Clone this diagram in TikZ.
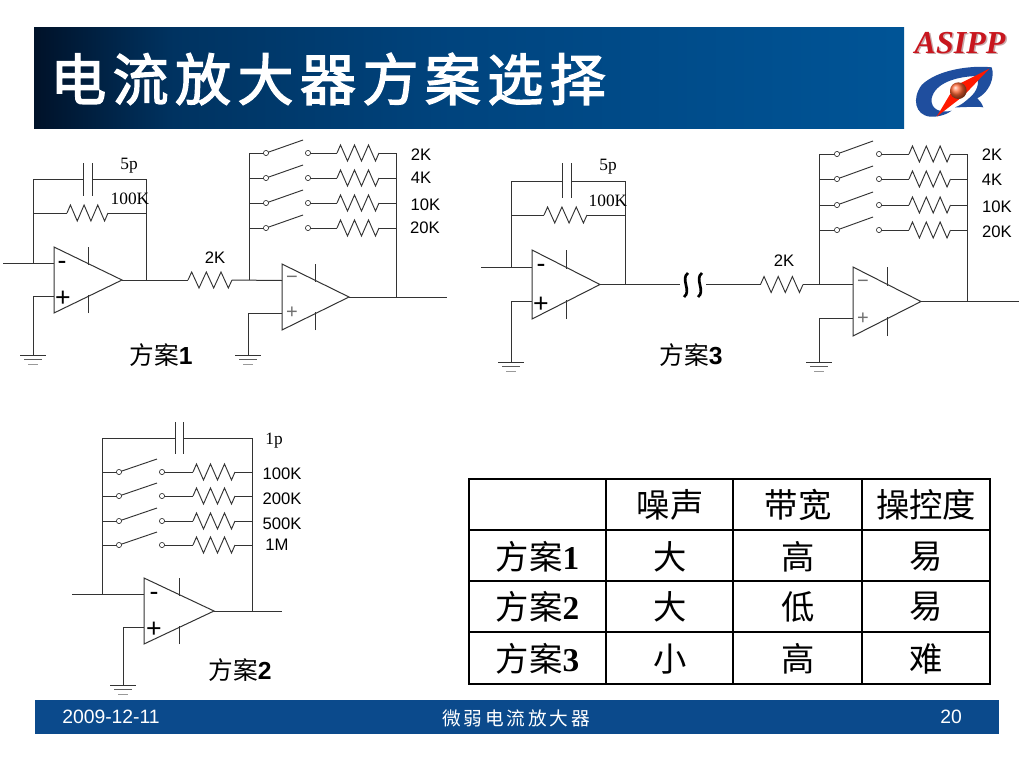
\documentclass[tikz,border=0pt]{standalone}
\usepackage{fontspec}
\setmainfont{Liberation Sans}
\newfontfamily\cjk{Noto Sans CJK SC}
\newfontfamily\cjktitle[LetterSpace=11.5,FakeBold=2.5]{Noto Sans CJK SC}
\newfontfamily\cjkfoot[LetterSpace=15]{Noto Sans CJK SC}
\newfontfamily\serif{Liberation Serif}
\usetikzlibrary{calc}
\newcommand\fs[1]{\fontsize{#1}{#1}\selectfont}
\pgfdeclarehorizontalshading{titlebar}{100bp}{
  rgb(0bp)=(0,0.07,0.16);
  rgb(25bp)=(0,0.07,0.16);
  rgb(33bp)=(0,0.20,0.38);
  rgb(50bp)=(0,0.27,0.50);
  rgb(75bp)=(0,0.33,0.59);
  rgb(100bp)=(0,0.33,0.59)}
\definecolor{wirecol}{HTML}{333333}
\definecolor{footblue}{HTML}{0B4A8C}
\definecolor{logoblue}{HTML}{1F4E9E}
\definecolor{logored}{HTML}{C8161E}
\tikzset{
  x=0.75pt,y=-0.75pt,
  wire/.style={draw=wirecol,line width=0.75pt,line join=miter},
  thinwire/.style={draw=wirecol,line width=0.7pt},
  contact/.style={draw=wirecol,fill=white,line width=0.5pt},
  lab/.style={inner sep=0,font=\fs{12.5}},
  sflab/.style={inner sep=0,font=\serif\fs{13}},
  plan/.style={inner sep=0,font=\fs{18.5}},
  cell/.style={inner sep=0,font=\fs{25}},
  sigA/.style={inner sep=0,font=\fs{20}},
  sigB/.style={inner sep=0,text=wirecol!70,font=\fs{15}},
}
% #1 name, #2 x left, #3 y top, #4 y bottom, #5 x tip, #6 stub x
\newcommand\opamp[6]{%
  \coordinate (#1-top) at (#2,#3);
  \coordinate (#1-bot) at (#2,#4);
  \coordinate (#1-o) at (#5,{(#3+#4)/2});
  \coordinate (#1-m) at (#2,{#3+(#4-#3)/4});
  \coordinate (#1-p) at (#2,{#4-(#4-#3)/4});
  \draw[wire] (#1-top) -- (#1-bot) -- (#1-o) -- cycle;
  \draw[thinwire] (#6,#3) -- (#6,{#3+(#4-#3)*0.27});
  \draw[thinwire] (#6,#4) -- (#6,{#4-(#4-#3)*0.27});
}
% zigzag between two named points on a level
\newcommand\zig[2]{%
  \path let \p1=($(#2)-(#1)$),\n1={\x1/6} in
    coordinate (zz) at (\n1,0);
  \draw[thinwire,line join=miter] (#1) -- ++($.5*(zz)+(0,-8)$) -- ++($(zz)+(0,16)$) -- ++($(zz)+(0,-16)$)
    -- ++($(zz)+(0,16)$) -- ++($(zz)+(0,-16)$) -- ++($(zz)+(0,16)$) -- (#2);
}
% ground symbol hanging at named coordinate
\newcommand\gnd[1]{%
  \draw[wire] ($(#1)+(-13,0)$) -- ($(#1)+(13,0)$);
  \draw[wire,draw=wirecol!80] ($(#1)+(-9,4)$) -- ($(#1)+(9,4)$);
  \draw[wire,draw=wirecol!50] ($(#1)+(-5,9)$) -- ($(#1)+(5,9)$);
}
% #1 left rail x, #2 left contact x, #3 blade end x, #4 right contact x, #5 res start, #6 res end, #7 right rail x, #8 y
\newcommand\swrow[8]{%
  \coordinate (sa) at (#1,#8); \coordinate (sb) at (#2,#8);
  \coordinate (sc) at (#3,#8-13); \coordinate (sd) at (#4,#8);
  \coordinate (se) at (#5,#8); \coordinate (sf) at (#6,#8); \coordinate (sg) at (#7,#8);
  \draw[wire] (sa) -- (sb);
  \draw[thinwire] (sb) -- (sc);
  \draw[wire] (sd) -- (se);
  \zig{se}{sf}
  \draw[wire] (sf) -- (sg);
  \draw[contact] (sb) circle[radius=2.6];
  \draw[contact] (sd) circle[radius=2.6];
}
\newcommand\capac[4]{%
  \draw[wire] (#1,#3) -- (#1,#4);
  \draw[wire] (#2,#3) -- (#2,#4);
}
\begin{document}
\begin{tikzpicture}
\useasboundingbox (0,0) rectangle (1024,768);
\fill[white] (0,0) rectangle (1024,768);
% ---------- title bar
\shade[shading=titlebar] (34,27) rectangle (904,128);
\node[inner sep=0,anchor=west,text=white,font=\cjktitle\fs{42}] (title) at (50,79) {电流放大器方案选择};
% ---------- logo
\node[inner sep=0,text=logored!50!black,opacity=.35,font=\serif\bfseries\itshape\fs{24}] (asippS) at (961.5,44.5) {ASIPP};
\node[inner sep=0,text=logored,font=\serif\bfseries\itshape\fs{24}] (asipp) at (960,43) {ASIPP};
\begin{scope}[shift={(880,20)},x=0.25pt,y=-0.25pt]
  \fill[logoblue] (335,142) .. controls (270,135) and (170,150) .. (125,195)
     .. controls (95,235) and (105,285) .. (150,290)
     .. controls (180,292) and (205,280) .. (215,272)
     .. controls (185,280) and (150,270) .. (155,235)
     .. controls (165,190) and (225,170) .. (290,168)
     .. controls (300,190) and (290,215) .. (270,232)
     .. controls (255,245) and (245,255) .. (225,262)
     .. controls (260,262) and (285,258) .. (310,262)
     .. controls (305,250) and (300,242) .. (292,235)
     .. controls (330,215) and (345,170) .. (335,142) -- cycle;
  \fill[red!80!orange] (328,146) -- (225,198) -- (170,290) -- (250,228) -- cycle;
  \shade[ball color=orange!50!red!80!white] (235,212) circle[radius=25];
\end{scope}
% ---------- scheme 1
\opamp{a}{54}{247}{313}{122}{88}
\opamp{b}{282}{264}{330}{349}{315}
\coordinate (a-g) at (33,355.5);
\coordinate (a-in) at (3,263.5);
\coordinate (a-fbl) at (a-g |- a-m);
\coordinate (a-tl) at (33,179.5);
\coordinate (a-cl) at (83,179.5);
\coordinate (a-cr) at (92,179.5);
\coordinate (a-tr) at (146.7,179.5);
\coordinate (a-fbr) at (a-tr |- a-o);
\coordinate (a-rl) at (33,213);
\coordinate (a-r1) at (67,213);
\coordinate (a-r2) at (108,213);
\coordinate (a-rr) at (146.7,213);
\coordinate (a-gt) at (a-g |- a-p);
\draw[wire] (a-in) -- (a-m);
\draw[wire] (a-fbl) -- (a-tl) -- (a-cl);
\draw[wire] (a-cr) -- (a-tr) -- (a-fbr);
\capac{83}{92}{163}{196}
\draw[wire] (a-rl) -- (a-r1); \zig{a-r1}{a-r2} \draw[wire] (a-r2) -- (a-rr);
\draw[wire] (a-gt) -- (a-p); \draw[wire] (a-gt) -- (a-g); \gnd{a-g}
\coordinate (ab-r1) at (188,280); \coordinate (ab-r2) at (232,280); \coordinate (b-j) at (249,280);
\draw[wire] (a-o) -- (ab-r1); \zig{ab-r1}{ab-r2} \draw[wire] (ab-r2) -- (b-m);
\coordinate (b-t) at (249,153); \draw[wire] (b-j) -- (b-t);
\coordinate (b-rt) at (396,153); \coordinate (b-rb) at (b-rt |- b-o); \coordinate (b-out) at (447,297);
\draw[wire] (b-rt) -- (b-rb); \draw[wire] (b-o) -- (b-out);
\swrow{249}{266}{303}{308}{337}{379}{396}{153}
\swrow{249}{266}{303}{308}{337}{379}{396}{178}
\swrow{249}{266}{303}{308}{337}{379}{396}{203}
\swrow{249}{266}{303}{308}{337}{379}{396}{228}
\coordinate (b-g) at (248,355.5); \coordinate (b-gt) at (b-g |- b-p);
\draw[wire] (b-gt) -- (b-p); \draw[wire] (b-gt) -- (b-g); \gnd{b-g}
\node[sflab] (t5pa) at (129,166) {5p};
\node[sflab] (t100a) at (130,199) {100K};
\node[lab] (t2ka) at (215,258) {2K};
\node[lab] (t2kb) at (421,155) {2K};
\node[lab] (t4kb) at (421,178) {4K};
\node[lab] (t10kb) at (425.5,205) {10K};
\node[lab] (t20kb) at (425,228) {20K};
\node[sigA] (ma) at (62,265) {-};
\node[sigA] (pa) at (63,299) {+};
\node[sigB] (mb) at (292,280) {−};
\node[sigB] (pb) at (292,313) {+};
\node[plan] (fa1) at (161,355) {{\cjk 方案}\textbf{1}};
% ---------- scheme 3
\opamp{c}{532}{250}{319}{600}{566}
\opamp{d}{853}{267}{336}{921}{887}
\coordinate (c-g) at (511,362);
\coordinate (c-in) at (481,267.25);
\coordinate (c-fbl) at (c-g |- c-m);
\coordinate (c-tl) at (511,181);
\coordinate (c-cl) at (562,181);
\coordinate (c-cr) at (571,181);
\coordinate (c-tr) at (625.5,181);
\coordinate (c-fbr) at (c-tr |- c-o);
\coordinate (c-rl) at (511,215);
\coordinate (c-r1) at (544,215);
\coordinate (c-r2) at (587,215);
\coordinate (c-rr) at (625.5,215);
\coordinate (c-gt) at (c-g |- c-p);
\draw[wire] (c-in) -- (c-m);
\draw[wire] (c-fbl) -- (c-tl) -- (c-cl);
\draw[wire] (c-cr) -- (c-tr) -- (c-fbr);
\capac{562}{571}{163}{198}
\draw[wire] (c-rl) -- (c-r1); \zig{c-r1}{c-r2} \draw[wire] (c-r2) -- (c-rr);
\draw[wire] (c-gt) -- (c-p); \draw[wire] (c-gt) -- (c-g); \gnd{c-g}
\coordinate (cd-b1) at (680,284.5); \coordinate (cd-b2) at (706,284.5);
\coordinate (cd-r1) at (760.5,284.5); \coordinate (cd-r2) at (803,284.5);
\coordinate (d-j) at (819,284.5);
\draw[wire] (c-o) -- (cd-b1);
\draw[line width=2pt,draw=black] (688,273) .. controls (680,279) and (692,291) .. (684,297);
\draw[line width=2pt,draw=black] (702,273) .. controls (694,279) and (706,291) .. (698,297);
\draw[wire] (cd-b2) -- (cd-r1); \zig{cd-r1}{cd-r2} \draw[wire] (cd-r2) -- (d-j) -- (d-j -| d-m);
\coordinate (d-t) at (819,154); \draw[wire] (d-j) -- (d-t);
\coordinate (d-rt) at (967.5,154); \coordinate (d-rb) at (d-rt |- d-o); \coordinate (d-out) at (1019,301.5);
\draw[wire] (d-rt) -- (d-rb); \draw[wire] (d-o) -- (d-out);
\swrow{819}{837}{873}{879}{909}{950.5}{967.5}{154}
\swrow{819}{837}{873}{879}{909}{950.5}{967.5}{179}
\swrow{819}{837}{873}{879}{909}{950.5}{967.5}{205}
\swrow{819}{837}{873}{879}{909}{950.5}{967.5}{230}
\coordinate (d-g) at (819,362); \coordinate (d-gt) at (d-g |- d-p);
\draw[wire] (d-gt) -- (d-p); \draw[wire] (d-gt) -- (d-g); \gnd{d-g}
\node[sflab] (t5pc) at (608,167) {5p};
\node[sflab] (t100c) at (608,201) {100K};
\node[lab] (t2kc) at (784,261) {2K};
\node[lab] (t2kd) at (992,155) {2K};
\node[lab] (t4kd) at (992,180) {4K};
\node[lab] (t10kd) at (997,207) {10K};
\node[lab] (t20kd) at (997,232) {20K};
\node[sigA] (mc) at (541,268) {-};
\node[sigA] (pc) at (541,305) {+};
\node[sigB] (md) at (863,284) {−};
\node[sigB] (pd) at (863,319) {+};
\node[plan] (fa3) at (691,355) {{\cjk 方案}\textbf{3}};
% ---------- scheme 2
\opamp{e}{144}{578}{644}{214}{179}
\coordinate (e-in) at (72,594.5);
\coordinate (e-j) at (102,594.5);
\coordinate (e-tl) at (102,438);
\coordinate (e-cl) at (175,438);
\coordinate (e-cr) at (183,438);
\coordinate (e-tr) at (252.7,438);
\coordinate (e-rb) at (e-tr |- e-o);
\coordinate (e-out) at (282,611);
\coordinate (e-g) at (123,685);
\coordinate (e-gt) at (e-g |- e-p);
\draw[wire] (e-in) -- (e-m);
\draw[wire] (e-j) -- (e-tl) -- (e-cl);
\draw[wire] (e-cr) -- (e-tr) -- (e-rb);
\capac{175}{183}{422}{454}
\draw[wire] (e-o) -- (e-out);
\draw[wire] (e-gt) -- (e-p); \draw[wire] (e-gt) -- (e-g); \gnd{e-g}
\swrow{102}{119}{157}{162}{193}{235}{252.7}{472}
\swrow{102}{119}{157}{162}{193}{235}{252.7}{496}
\swrow{102}{119}{157}{162}{193}{235}{252.7}{521}
\swrow{102}{119}{157}{162}{193}{235}{252.7}{545}
\node[sflab] (t1p) at (274,441) {1p};
\node[lab] (t100e) at (282,474) {100K};
\node[lab] (t200e) at (282,499) {200K};
\node[lab] (t500e) at (282,524) {500K};
\node[lab] (t1m) at (277,545) {1M};
\node[sigA] (me) at (154,596) {-};
\node[sigA] (pe) at (154,630) {+};
\node[plan] (fa2) at (240,670) {{\cjk 方案}\textbf{2}};
% ---------- table
\draw[black,line width=0.8pt] (469,479) rectangle (990,684);
\foreach \yy in {530,581,632} \draw[black,line width=0.8pt] (469,\yy) -- (990,\yy);
\foreach \xx in {606,733,862} \draw[black,line width=0.8pt] (\xx,479) -- (\xx,684);
\node[cell] (h1) at (670,505) {\cjk 噪声};
\node[cell] (h2) at (798,505) {\cjk 带宽};
\node[cell] (h3) at (926,505) {\cjk 操控度};
\node[cell] (r1) at (537.5,557) {{\cjk 方案}{\serif\bfseries 1}};
\node[cell] (r2) at (537.5,607) {{\cjk 方案}{\serif\bfseries 2}};
\node[cell] (r3) at (537.5,659) {{\cjk 方案}{\serif\bfseries 3}};
\node[cell] (c11) at (670,557) {\cjk 大};
\node[cell] (c12) at (798,557) {\cjk 高};
\node[cell] (c13) at (926,557) {\cjk 易};
\node[cell] (c21) at (670,607) {\cjk 大};
\node[cell] (c22) at (798,607) {\cjk 低};
\node[cell] (c23) at (926,607) {\cjk 易};
\node[cell] (c31) at (670,659) {\cjk 小};
\node[cell] (c32) at (798,659) {\cjk 高};
\node[cell] (c33) at (926,659) {\cjk 难};
% ---------- footer
\fill[footblue] (35,700) rectangle (999,734);
\node[inner sep=0,text=white,font=\fs{14.5}] (date) at (111,717) {2009-12-11};
\node[inner sep=0,text=white,font=\cjkfoot\fs{14}] (foot) at (516,718) {微弱电流放大器};
\node[inner sep=0,text=white,font=\fs{14.5}] (page) at (951,717) {20};
\end{tikzpicture}
\end{document}
